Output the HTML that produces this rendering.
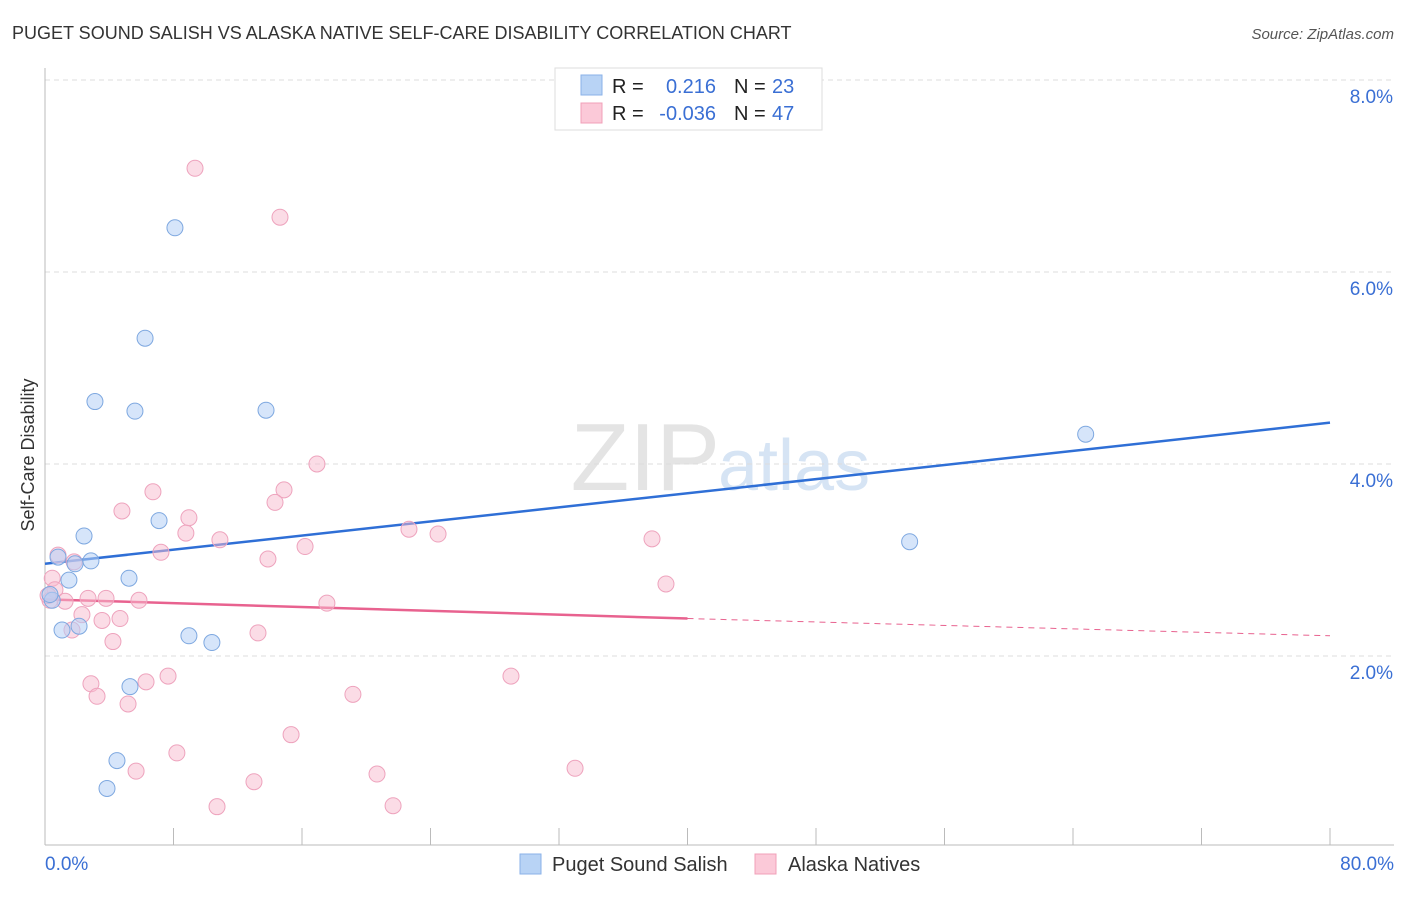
<!DOCTYPE html>
<html><head><meta charset="utf-8"><style>
body{margin:0;background:#fff;font-family:"Liberation Sans",sans-serif}
svg text{font-family:"Liberation Sans",sans-serif}
</style></head><body>
<svg id="c" width="1406" height="892" xmlns="http://www.w3.org/2000/svg">
<text x="12" y="39" font-size="18" fill="#333">PUGET SOUND SALISH VS ALASKA NATIVE SELF-CARE DISABILITY CORRELATION CHART</text>
<text x="1394" y="39" font-size="15" fill="#555" font-style="italic" text-anchor="end">Source: ZipAtlas.com</text>
<text x="720" y="490" font-size="96" fill="#e4e4e4" font-family="Liberation Serif" text-anchor="end">ZIP</text>
<text x="718" y="490" font-size="72" fill="#d6e4f4">atlas</text>
<text transform="translate(34,455) rotate(-90)" font-size="18" fill="#333" text-anchor="middle">Self-Care Disability</text>
<g id="grid"></g><g id="trend"></g><g id="pts"></g>
<g>
<rect x="555" y="68" width="267" height="62" fill="#fff" stroke="#ddd"/>
<rect x="581" y="75" width="21" height="20" fill="#b8d3f5" stroke="#8ab2e8"/>
<rect x="581" y="103" width="21" height="20" fill="#fbc9d8" stroke="#f0a0b8"/>
<text x="612" y="93" font-size="20" fill="#222">R =</text><text x="716" y="93" font-size="20" fill="#3a6fd4" text-anchor="end">0.216</text>
<text x="734" y="93" font-size="20" fill="#222">N =</text><text x="772" y="93" font-size="20" fill="#3a6fd4">23</text>
<text x="612" y="120" font-size="20" fill="#222">R =</text><text x="716" y="120" font-size="20" fill="#3a6fd4" text-anchor="end">-0.036</text>
<text x="734" y="120" font-size="20" fill="#222">N =</text><text x="772" y="120" font-size="20" fill="#3a6fd4">47</text>
</g>
<g>
<rect x="520" y="854" width="21" height="20" fill="#b8d3f5" stroke="#8ab2e8"/>
<text x="552" y="871" font-size="20" fill="#333">Puget Sound Salish</text>
<rect x="755" y="854" width="21" height="20" fill="#fbc9d8" stroke="#f0a0b8"/>
<text x="788" y="871" font-size="20" fill="#333">Alaska Natives</text>
</g>
</svg>
<script>
const yTicks=[2,4,6,8];
const xTickLabels=["0.0%","80.0%"];
const pugetX=[0.45,0.81,1.06,1.49,1.87,2.12,2.43,2.86,3.11,3.86,4.48,5.23,5.29,5.60,6.23,7.10,8.09,8.96,10.39,13.76,53.83,64.79,0.31];
const pugetY=[2.57,3.02,2.26,2.78,2.95,2.30,3.24,2.98,4.64,0.61,0.90,2.80,1.67,4.54,5.30,3.40,6.45,2.20,2.13,4.55,3.18,4.30,2.63];
const alaskaX=[9.34,14.63,16.93,14.88,14.32,6.72,4.79,8.96,8.77,10.89,16.19,7.22,13.88,22.66,24.47,37.79,38.66,0.81,1.81,0.45,0.62,1.25,2.68,3.80,5.85,17.55,2.30,3.55,4.67,1.68,4.23,13.26,2.86,3.24,5.17,6.29,7.66,19.17,29.01,15.32,8.21,5.67,13.01,10.71,20.67,21.67,33.00,0.31,0.19];
const alaskaY=[7.07,6.56,3.99,3.72,3.59,3.70,3.50,3.43,3.27,3.20,3.13,3.07,3.00,3.31,3.26,3.21,2.74,3.04,2.97,2.80,2.68,2.56,2.59,2.59,2.57,2.54,2.42,2.36,2.38,2.26,2.14,2.23,1.70,1.57,1.49,1.72,1.78,1.59,1.78,1.17,0.98,0.79,0.68,0.42,0.76,0.43,0.82,2.57,2.62];
const trendPuget=[2.95,4.42];
const trendAlaska=[2.58,2.38,2.20];
const trendAlaskaX=[0,40,80];
const NS="http://www.w3.org/2000/svg";
const sx=v=>45+v/80*1285, sy=v=>847-v*96;
function mk(t,a,p){const e=document.createElementNS(NS,t);for(const k in a)e.setAttribute(k,a[k]);document.getElementById(p).appendChild(e);return e;}
yTicks.forEach(t=>{
 const l=mk('line',{x1:45,x2:1394,y1:sy(t)+1,y2:sy(t)+1,stroke:'#ddd','stroke-dasharray':'5,4'},'grid');
 
 
 const tx=mk('text',{x:1393,y:sy(t)+24,'font-size':19,fill:'#3a6fd4','text-anchor':'end'},'grid');tx.textContent=t.toFixed(1)+'%';
 
 
});
const ax=mk('line',{x1:45,x2:1394,y1:845,y2:845,stroke:'#bbb'},'grid');


const ay=mk('line',{x1:45,x2:45,y1:68,y2:845,stroke:'#bbb'},'grid');


for(let i=1;i<=10;i++){const x=45+i*128.5;const t=mk('line',{x1:x,x2:x,y1:828,y2:845,stroke:'#bbb'},'grid');
 
 }
xTickLabels.forEach((s,i)=>{const t=mk('text',{x:i?1394:45,y:870,'font-size':19,fill:'#3a6fd4','text-anchor':i?'end':'start'},'grid');t.textContent=s;
 
 });
const tp=mk('line',{x1:sx(0),y1:sy(trendPuget[0]),x2:sx(80),y2:sy(trendPuget[1]),stroke:'#2f6fd6','stroke-width':2.5},'trend');


const ta=mk('line',{x1:sx(trendAlaskaX[0]),y1:sy(trendAlaska[0]),x2:sx(trendAlaskaX[1]),y2:sy(trendAlaska[1]),stroke:'#e8628f','stroke-width':2.5},'trend');


const td=mk('line',{x1:sx(trendAlaskaX[1]),y1:sy(trendAlaska[1]),x2:sx(trendAlaskaX[2]),y2:sy(trendAlaska[2]),stroke:'#e8628f','stroke-width':1,'stroke-dasharray':'6,5'},'trend');


alaskaX.forEach((x,i)=>{const c=mk('circle',{cx:sx(x),cy:sy(alaskaY[i]),r:8,fill:'rgba(248,186,206,0.5)',stroke:'#eea3bd','stroke-width':1},'pts');
 
 });
pugetX.forEach((x,i)=>{const c=mk('circle',{cx:sx(x),cy:sy(pugetY[i]),r:8,fill:'rgba(180,208,245,0.55)',stroke:'#7ea8e0','stroke-width':1},'pts');
 
 });
</script>
</body></html>
